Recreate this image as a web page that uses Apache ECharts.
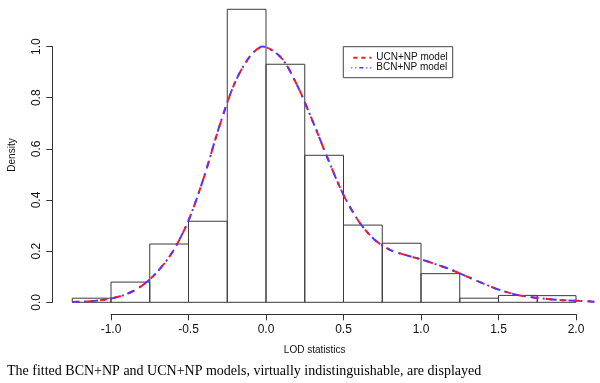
<!DOCTYPE html>
<html>
<head>
<meta charset="utf-8">
<script src="https://cdn.jsdelivr.net/npm/echarts@6/dist/echarts.min.js"></script>
<style>
  html, body { margin: 0; padding: 0; background: #fff; }
  #main { width: 600px; height: 383px; }
</style>
</head>
<body>
<div id="main"></div>
<script>
// histogram bins (width 0.25) and their densities
const binEdges = [-1.25, -1.0, -0.75, -0.5, -0.25, 0.0, 0.25, 0.5, 0.75, 1.0, 1.25, 1.5, 1.75, 2.0]
const density = [0.016, 0.079, 0.228, 0.317, 1.146, 0.931, 0.575, 0.302, 0.231, 0.112, 0.016, 0.027, 0.026]

// fitted model curve (both models virtually the same)
const curveX = [-1.25, -1.2, -1.1, -1.0, -0.9, -0.8, -0.7, -0.6, -0.5, -0.4, -0.3, -0.2, -0.1, -0.02,
  0.1, 0.2, 0.3, 0.4, 0.5, 0.6, 0.7, 0.8, 0.9, 1.0, 1.1, 1.2, 1.3, 1.4, 1.5, 1.6, 1.7, 1.8, 1.9, 2.0, 2.1, 2.15]
const ucnY = [0.001, 0.002, 0.006, 0.015, 0.032, 0.065, 0.12, 0.2, 0.32, 0.49, 0.69, 0.86, 0.965, 1.0,
  0.955, 0.85, 0.71, 0.56, 0.42, 0.315, 0.245, 0.205, 0.185, 0.168, 0.148, 0.126, 0.1, 0.074, 0.05, 0.032, 0.021, 0.014, 0.009, 0.006, 0.003, 0.002]
const bcnY = ucnY.slice()

const bins = density.map((d, i) => [binEdges[i], binEdges[i + 1], d])
const pairs = ys => curveX.map((x, i) => [x, ys[i]])

const chart = echarts.init(document.getElementById('main'))
const sans = 'Liberation Sans, Arial, sans-serif'
const red = '#ff1a1a'
const blue = '#5a32ff'

const option = {
  animation: false,
  backgroundColor: '#fff',
  grid: [
    // data area
    { left: 64.5, width: 534.75, top: 0.6, height: 301.7 },
    // x axis as R draws it (from -1 to 2, below the plot)
    { left: 111, width: 465, top: 200, height: 114.3 },
    // y axis (0 to 1)
    { left: 52.3, width: 10, top: 46.6, height: 255.7 }
  ],
  xAxis: [
    { gridIndex: 0, type: 'value', min: -1.3, max: 2.15, show: false },
    {
      gridIndex: 1, type: 'value', min: -1, max: 2, interval: 0.5,
      axisLine: { lineStyle: { color: '#333', width: 1 } },
      axisTick: { length: 6, lineStyle: { color: '#333' } },
      axisLabel: { color: '#111', fontFamily: sans, fontSize: 12, margin: 9,
        formatter: v => v.toFixed(1) },
      splitLine: { show: false }
    },
    { gridIndex: 2, type: 'value', show: false }
  ],
  yAxis: [
    { gridIndex: 0, type: 'value', min: 0, max: 1.18, show: false },
    { gridIndex: 1, type: 'value', show: false },
    {
      gridIndex: 2, type: 'value', min: 0, max: 1, interval: 0.2,
      axisLine: { show: true, lineStyle: { color: '#333', width: 1 } },
      axisTick: { show: true, length: 6, lineStyle: { color: '#333' } },
      axisLabel: { color: '#111', fontFamily: sans, fontSize: 12, rotate: 90, margin: 10,
        formatter: v => v.toFixed(1) },
      splitLine: { show: false }
    }
  ],
  legend: {
    orient: 'vertical',
    left: 343.3, top: 46.7,
    padding: [6, 5, 5, 7],
    itemGap: 0,
    itemWidth: 20, itemHeight: 10,
    borderColor: '#444', borderWidth: 1,
    itemStyle: { opacity: 0 },
    textStyle: { fontFamily: sans, fontSize: 10, color: '#111', lineHeight: 10 },
    data: [
      { name: 'UCN+NP model', lineStyle: { color: red, width: 2, type: [4, 4], dashOffset: -2 } },
      { name: 'BCN+NP model', lineStyle: { color: blue, width: 1.5, type: [1, 3, 4, 3] } }
    ]
  },
  graphic: [
    { type: 'text', rotation: Math.PI / 2, x: 12.5, y: 155,
      style: { text: 'Density', font: '10px ' + sans, fill: '#111', align: 'center', verticalAlign: 'middle' } },
    { type: 'text', x: 314.7, y: 350,
      style: { text: 'LOD statistics', font: '10px ' + sans, fill: '#111', align: 'center', verticalAlign: 'middle' } },
    { type: 'text', x: 7, y: 371,
      style: { text: 'The fitted BCN+NP and UCN+NP models, virtually indistinguishable, are displayed',
        font: '14px "Liberation Serif", "Times New Roman", serif', fill: '#000', verticalAlign: 'middle' } }
  ],
  series: [
    {
      name: 'histogram',
      type: 'custom',
      xAxisIndex: 0, yAxisIndex: 0,
      data: bins,
      renderItem: (params, api) => {
        const p0 = api.coord([api.value(0), api.value(2)])
        const p1 = api.coord([api.value(1), 0])
        return {
          type: 'rect',
          shape: { x: p0[0], y: p0[1], width: p1[0] - p0[0], height: p1[1] - p0[1] },
          style: { fill: 'none', stroke: '#3a3a3a', lineWidth: 1 }
        }
      },
      z: 1
    },
    {
      name: 'UCN+NP model',
      type: 'line',
      xAxisIndex: 0, yAxisIndex: 0,
      data: pairs(ucnY),
      smooth: 0.3,
      symbol: 'none',
      color: red,
      lineStyle: { color: red, width: 2, type: [7, 7] },
      z: 2
    },
    {
      name: 'BCN+NP model',
      type: 'line',
      xAxisIndex: 0, yAxisIndex: 0,
      data: pairs(bcnY),
      smooth: 0.3,
      symbol: 'none',
      color: blue,
      lineStyle: { color: blue, width: 2, type: [2, 5, 7, 5], dashOffset: 7 },
      z: 3
    }
  ]
}

chart.setOption(option)
</script>
</body>
</html>
